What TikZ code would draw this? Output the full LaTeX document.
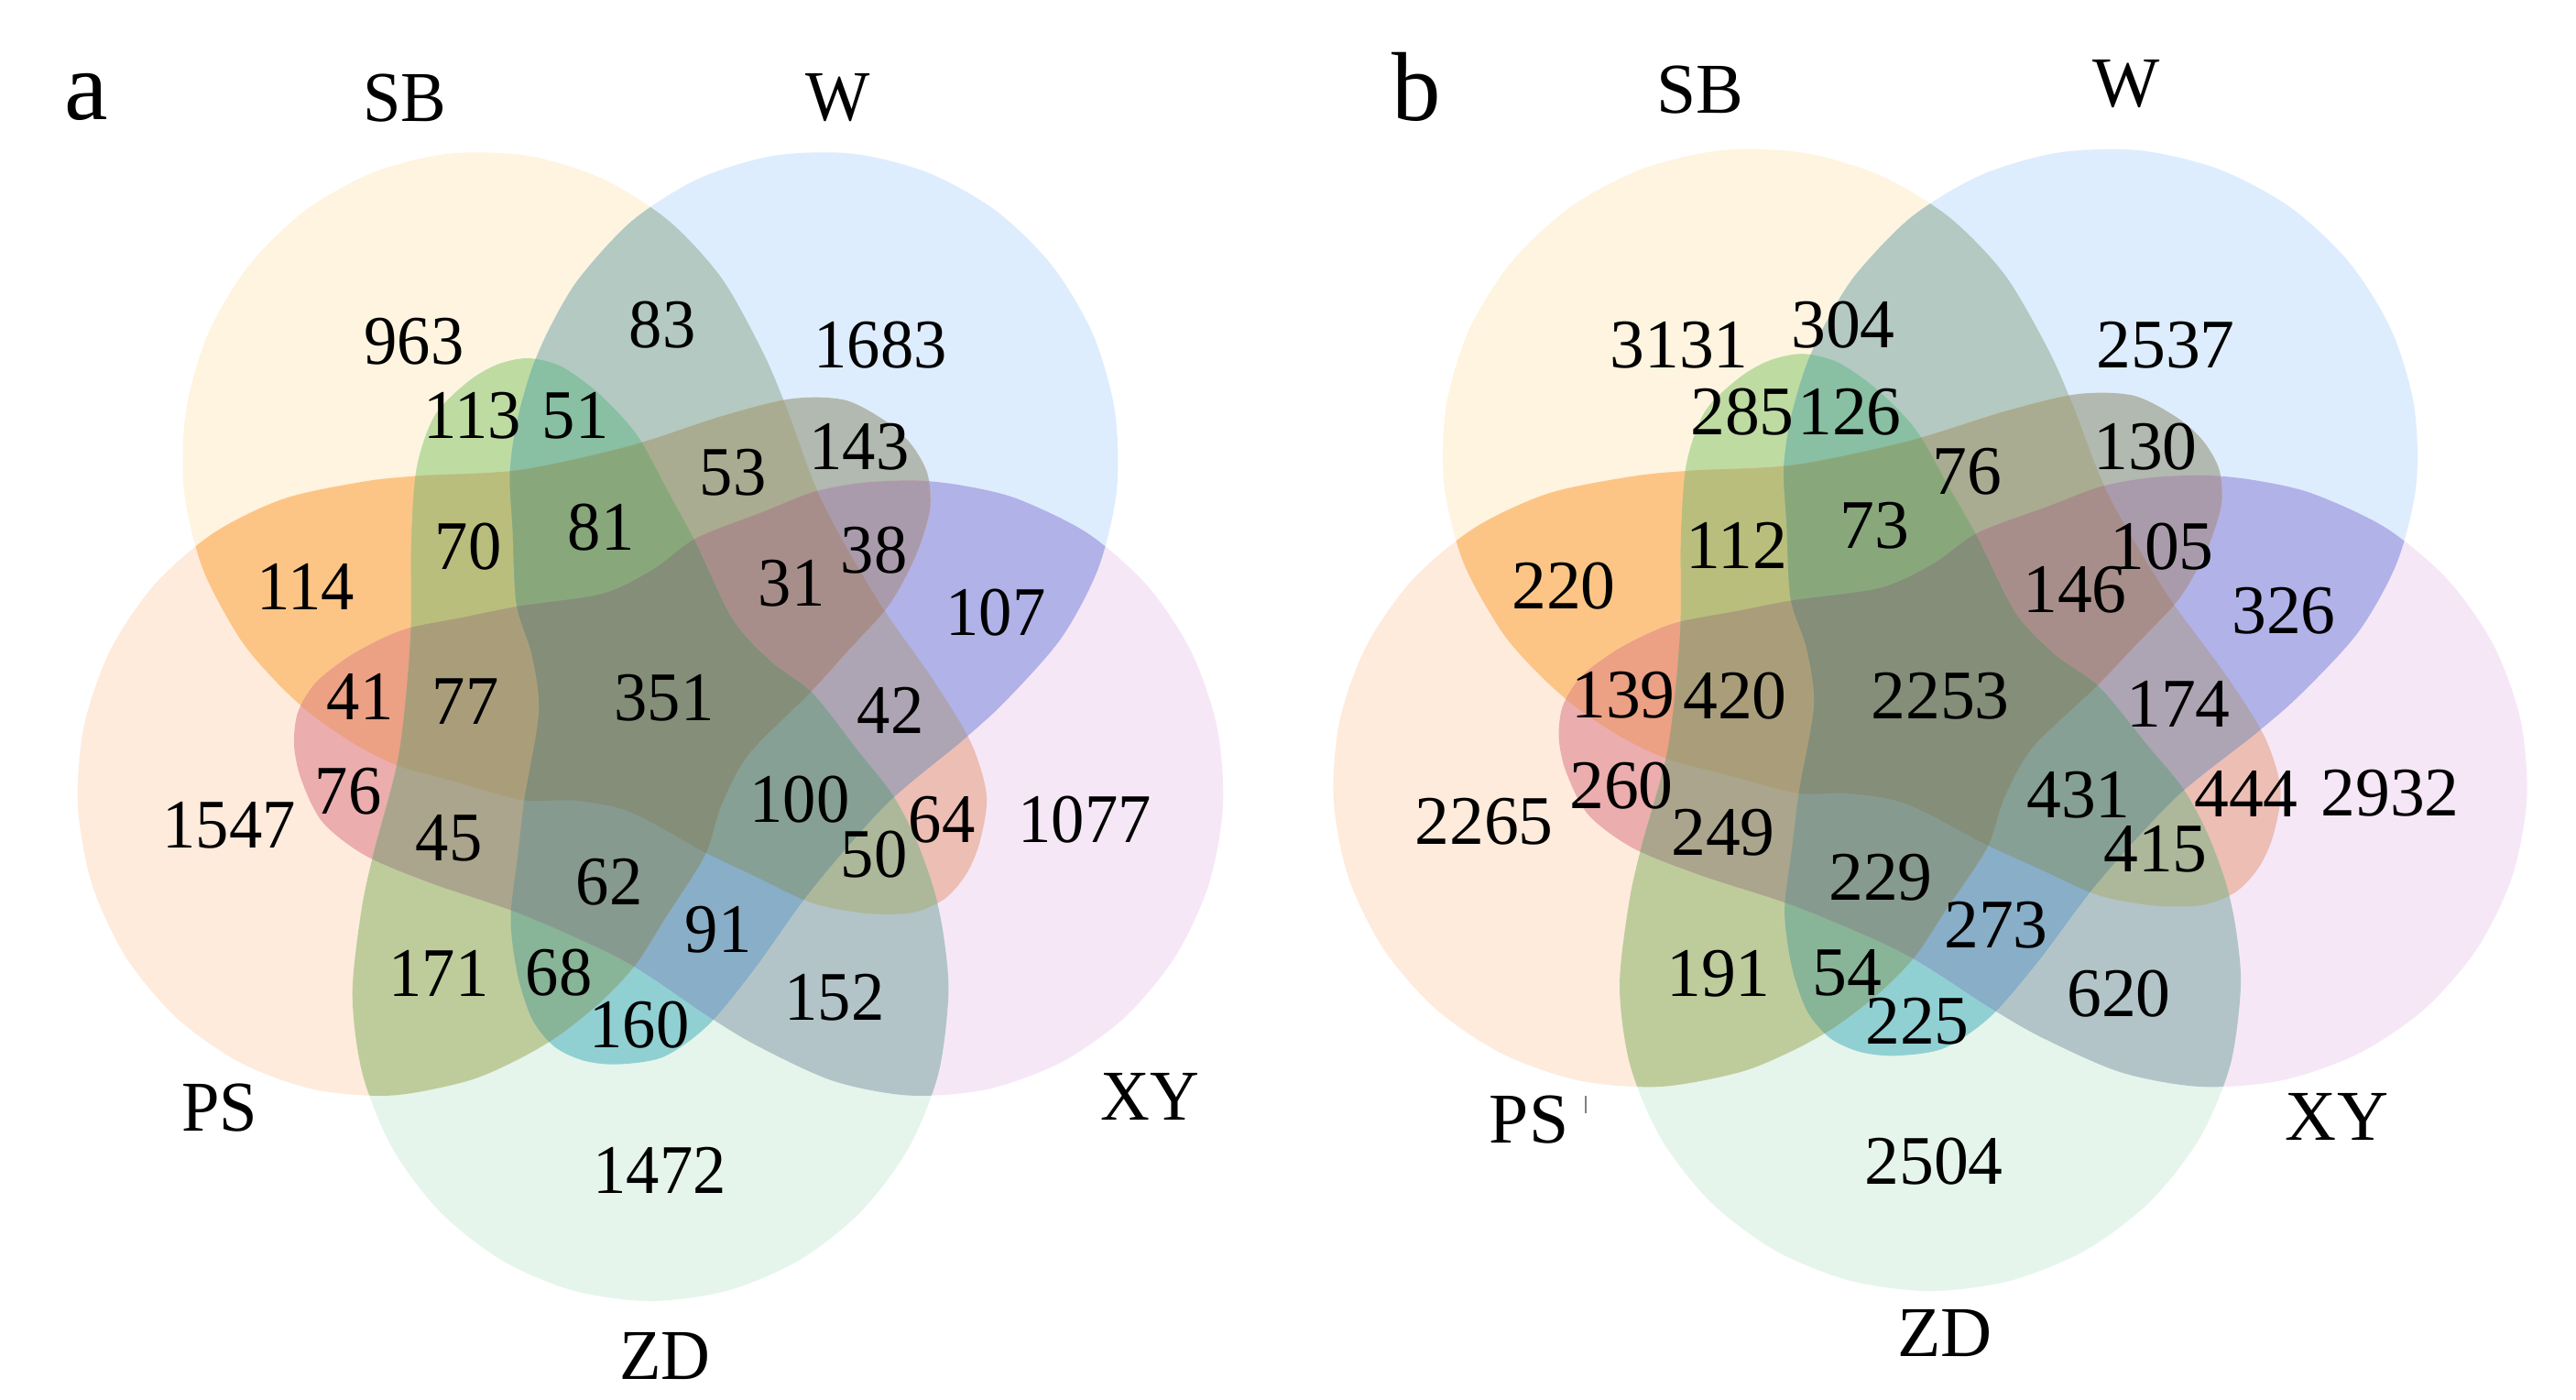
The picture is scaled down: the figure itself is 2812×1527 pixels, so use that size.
\documentclass[tikz,border=0pt]{standalone}
\usepackage{fontspec}
\setmainfont{Liberation Serif}
\usepackage{graphicx}
% single-set regions
\definecolor{oS}{RGB}{254,244,223}
\definecolor{oW}{RGB}{221,237,253}
\definecolor{oX}{RGB}{246,231,247}
\definecolor{oZ}{RGB}{229,245,236}
\definecolor{oP}{RGB}{254,235,220}
% pairs
\definecolor{cSW}{RGB}{179,201,193}
\definecolor{cSX}{RGB}{237,190,179}
\definecolor{cSZ}{RGB}{190,219,162}
\definecolor{cSP}{RGB}{252,197,134}
\definecolor{cWX}{RGB}{177,178,232}
\definecolor{cWZ}{RGB}{144,208,211}
\definecolor{cWP}{RGB}{177,185,177}
\definecolor{cXZ}{RGB}{178,196,200}
\definecolor{cXP}{RGB}{235,173,173}
\definecolor{cZP}{RGB}{190,204,156}
% triples
\definecolor{cSWX}{RGB}{173,164,180}
\definecolor{cSWZ}{RGB}{137,191,162}
\definecolor{cSWP}{RGB}{169,172,144}
\definecolor{cSXZ}{RGB}{173,184,154}
\definecolor{cSXP}{RGB}{236,160,132}
\definecolor{cSZP}{RGB}{186,190,124}
\definecolor{cWXZ}{RGB}{136,174,200}
\definecolor{cWXP}{RGB}{169,155,172}
\definecolor{cWZP}{RGB}{136,180,152}
\definecolor{cXZP}{RGB}{170,165,140}
% quadruples
\definecolor{cSWXZ}{RGB}{134,160,149}
\definecolor{cSWXP}{RGB}{168,142,138}
\definecolor{cSWZP}{RGB}{136,168,124}
\definecolor{cSXZP}{RGB}{170,158,122}
\definecolor{cWXZP}{RGB}{135,154,144}
\definecolor{cAll}{RGB}{132,142,121}

\newcommand\shapepath{plot[smooth cycle,tension=0.5] coordinates {
(-137,-371) (-100,-362) (-62,-336) (-30,-305) (-9,-278) (20,-225) (50,-171)
(92,-86) (135,-40) (182,-5) (233,58) (271,105) (297,153) (318,210) (329,262)
(334,324) (322.6,410.4) (289.3,491) (236.2,560.2) (167,613.3) (86.4,646.6)
(0,658) (-86.4,646.6) (-167,613.3) (-236.2,560.2) (-289.3,491) (-322.6,410.4)
(-334,324) (-324,232) (-310,168) (-282,62) (-269,-62) (-268,-171) (-262,-251)
(-242,-308) (-205,-345) (-172,-364)}}
\newcommand\clipS{\clip[rotate=-144]\shapepath;}
\newcommand\clipW{\clip[rotate=144]\shapepath;}
\newcommand\clipX{\clip[rotate=72]\shapepath;}
\newcommand\clipZ{\clip\shapepath;}
\newcommand\clipP{\clip[rotate=-72]\shapepath;}
\newcommand\vreg[2]{\begin{scope}#1\fill[#2](-1500,-1500) rectangle (1500,1500);\end{scope}}
\newcommand\vennfill{%
\vreg{\clipS}{oS}\vreg{\clipW}{oW}\vreg{\clipX}{oX}\vreg{\clipZ}{oZ}\vreg{\clipP}{oP}%
\vreg{\clipS\clipW}{cSW}\vreg{\clipS\clipX}{cSX}\vreg{\clipS\clipZ}{cSZ}\vreg{\clipS\clipP}{cSP}%
\vreg{\clipW\clipX}{cWX}\vreg{\clipW\clipZ}{cWZ}\vreg{\clipW\clipP}{cWP}%
\vreg{\clipX\clipZ}{cXZ}\vreg{\clipX\clipP}{cXP}\vreg{\clipZ\clipP}{cZP}%
\vreg{\clipS\clipW\clipX}{cSWX}\vreg{\clipS\clipW\clipZ}{cSWZ}\vreg{\clipS\clipW\clipP}{cSWP}%
\vreg{\clipS\clipX\clipZ}{cSXZ}\vreg{\clipS\clipX\clipP}{cSXP}\vreg{\clipS\clipZ\clipP}{cSZP}%
\vreg{\clipW\clipX\clipZ}{cWXZ}\vreg{\clipW\clipX\clipP}{cWXP}\vreg{\clipW\clipZ\clipP}{cWZP}%
\vreg{\clipX\clipZ\clipP}{cXZP}%
\vreg{\clipS\clipW\clipX\clipZ}{cSWXZ}\vreg{\clipS\clipW\clipX\clipP}{cSWXP}%
\vreg{\clipS\clipW\clipZ\clipP}{cSWZP}\vreg{\clipS\clipX\clipZ\clipP}{cSXZP}%
\vreg{\clipW\clipX\clipZ\clipP}{cWXZP}%
\vreg{\clipS\clipW\clipX\clipZ\clipP}{cAll}}
\newcommand\na[1]{\scalebox{0.955}[1]{#1}}
\newcommand\nb[1]{\scalebox{0.995}[1]{#1}}

\begin{document}
\begin{tikzpicture}[x=1pt,y=-1pt,
  num/.style={font=\fontsize{76}{80}\selectfont, inner sep=0pt},
  lab/.style={font=\fontsize{78}{84}\selectfont, inner sep=0pt},
  panel/.style={font=\fontsize{107}{115}\selectfont, inner sep=0pt}]
\useasboundingbox (0,0) rectangle (2812,1527);
\fill[white] (0,0) rectangle (2812,1527);
\begin{scope}[shift={(710,762)},xscale=0.974]
\vennfill
\end{scope}
\begin{scope}[shift={(2107,755)},xscale=1.015,yscale=0.994]
\vennfill
\end{scope}
% panel a labels
\node[panel] (pa) at (94,106) {a};
\node[lab] (aSB) at (442,107) {\na{SB}};
\node[lab] (aW) at (915,107) {\na{W}};
\node[lab] (aPS) at (240,1209) {\na{PS}};
\node[lab] (aXY) at (1255,1197) {\na{XY}};
\node[lab] (aZD) at (726,1480) {\na{ZD}};
\node[num] (a963) at (452,373) {\na{963}};
\node[num] (a83) at (723,355) {\na{83}};
\node[num] (a1683) at (961,377) {\na{1683}};
\node[num] (a113) at (516,454) {\na{113}};
\node[num] (a51) at (628,454) {\na{51}};
\node[num] (a53) at (800,516) {\na{53}};
\node[num] (a143) at (938,488) {\na{143}};
\node[num] (a70) at (511,597) {\na{70}};
\node[num] (a81) at (656,576) {\na{81}};
\node[num] (a31) at (864,637) {\na{31}};
\node[num] (a38) at (954,601) {\na{38}};
\node[num] (a114) at (334,640) {\na{114}};
\node[num] (a107) at (1087,669) {\na{107}};
\node[num] (a41) at (393,760) {\na{41}};
\node[num] (a77) at (508,766) {\na{77}};
\node[num] (a351) at (725,762) {\na{351}};
\node[num] (a42) at (972,775) {\na{42}};
\node[num] (a76) at (380,864) {\na{76}};
\node[num] (a100) at (873,873) {\na{100}};
\node[num] (a64) at (1028,895) {\na{64}};
\node[num] (a1077) at (1184,895) {\na{1077}};
\node[num] (a1547) at (250,901) {\na{1547}};
\node[num] (a45) at (490,915) {\na{45}};
\node[num] (a50) at (954,933) {\na{50}};
\node[num] (a62) at (665,963) {\na{62}};
\node[num] (a91) at (784,1015) {\na{91}};
\node[num] (a171) at (479,1062) {\na{171}};
\node[num] (a68) at (610,1062) {\na{68}};
\node[num] (a152) at (911,1089) {\na{152}};
\node[num] (a160) at (698,1119) {\na{160}};
\node[num] (a1472) at (720,1277) {\na{1472}};
% panel b labels
\node[panel] (pb) at (1546,95) {b};
\node[lab] (bSB) at (1856,98) {\nb{SB}};
\node[lab] (bW) at (2321,92) {\nb{W}};
\node[lab] (bPS) at (1669,1222) {\nb{PS}};
\node[lab] (bXY) at (2551,1219) {\nb{XY}};
\node[lab] (bZD) at (2123,1455) {\nb{ZD}};
\coordinate (tickA) at (1731,1196);
\coordinate (tickB) at (1731,1215);
\draw[gray, line width=2pt] (tickA) -- (tickB);
\node[num] (b3131) at (1833,377) {\nb{3131}};
\node[num] (b304) at (2012,355) {\nb{304}};
\node[num] (b2537) at (2364,377) {\nb{2537}};
\node[num] (b285) at (1902,450) {\nb{285}};
\node[num] (b126) at (2019,450) {\nb{126}};
\node[num] (b76) at (2147,515) {\nb{76}};
\node[num] (b130) at (2342,488) {\nb{130}};
\node[num] (b112) at (1896,595) {\nb{112}};
\node[num] (b73) at (2046,574) {\nb{73}};
\node[num] (b220) at (1707,640) {\nb{220}};
\node[num] (b105) at (2360,597) {\nb{105}};
\node[num] (b146) at (2265,644) {\nb{146}};
\node[num] (b326) at (2493,667) {\nb{326}};
\node[num] (b139) at (1772,759) {\nb{139}};
\node[num] (b420) at (1894,760) {\nb{420}};
\node[num] (b2253) at (2118,760) {\nb{2253}};
\node[num] (b174) at (2378,768) {\nb{174}};
\node[num] (b260) at (1770,858) {\nb{260}};
\node[num] (b431) at (2269,868) {\nb{431}};
\node[num] (b444) at (2452,866) {\nb{444}};
\node[num] (b2932) at (2609,866) {\nb{2932}};
\node[num] (b2265) at (1620,897) {\nb{2265}};
\node[num] (b249) at (1881,909) {\nb{249}};
\node[num] (b415) at (2353,927) {\nb{415}};
\node[num] (b229) at (2053,958) {\nb{229}};
\node[num] (b273) at (2179,1010) {\nb{273}};
\node[num] (b191) at (1876,1063) {\nb{191}};
\node[num] (b54) at (2016,1062) {\nb{54}};
\node[num] (b620) at (2313,1085) {\nb{620}};
\node[num] (b225) at (2093,1115) {\nb{225}};
\node[num] (b2504) at (2111,1268) {\nb{2504}};
\end{tikzpicture}
\end{document}
